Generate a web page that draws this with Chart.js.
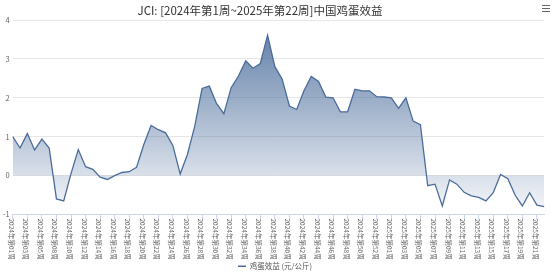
<!DOCTYPE html>
<html>
<head>
<meta charset="utf-8">
<script src="https://cdn.jsdelivr.net/npm/chart.js@4"></script>
<style>
html, body { margin: 0; padding: 0; background: #fff; }
#wrap { width: 553px; height: 280px; position: relative; }
</style>
</head>
<body>
<div id="wrap"><canvas id="myChart"></canvas></div>
<script>
const chartTitle = 'JCI: [2024年第1周~2025年第22周]中国鸡蛋效益';
const seriesName = '鸡蛋效益 (元/公斤)';

// week numbers (2024 has no week 6 in the data)
const weeks2024 = [1, 2, 3, 4, 5, 7, 8, 9, 10, 11, 12, 13, 14, 15, 16, 17, 18, 19, 20, 21, 22, 23, 24, 25, 26, 27, 28, 29, 30,
    31, 32, 33, 34, 35, 36, 37, 38, 39, 40, 41, 42, 43, 44, 45, 46, 47, 48, 49, 50, 51, 52, 53];
const weeks2025 = [1, 2, 3, 4, 5, 6, 7, 8, 9, 10, 11, 12, 13, 14, 15, 16, 17, 18, 19, 20, 21, 22];

const eggProfit = [1.0, 0.71, 1.08, 0.66, 0.94, 0.71, -0.6, -0.65, 0.05, 0.67, 0.23, 0.16, -0.04, -0.1, 0.0, 0.08, 0.1, 0.21,
    0.8, 1.29, 1.18, 1.1, 0.77, 0.04, 0.55, 1.27, 2.24, 2.3, 1.85, 1.59, 2.26, 2.56, 2.95, 2.76, 2.88, 3.61, 2.8, 2.48,
    1.79, 1.7, 2.18, 2.55, 2.42, 2.02, 2.0, 1.64, 1.64, 2.22, 2.18, 2.18, 2.03, 2.02, 2.0, 1.73, 2.0, 1.4, 1.31,
    -0.26, -0.22, -0.78, -0.11, -0.22, -0.43, -0.52, -0.56, -0.65, -0.44, 0.03, -0.08, -0.5, -0.78, -0.44, -0.76, -0.8];

const yMin = -1;
const yMax = 4;

function pad(n) { return n < 10 ? '0' + n : '' + n; }
var labels = weeks2024.map(w => '2024年第' + pad(w) + '周').concat(weeks2025.map(w => '2025年第' + pad(w) + '周'));

var font = '"Noto Sans CJK SC", "Noto Sans", sans-serif';

// x labels read top to bottom, title offset left of the menu button
const customText = {
    id: 'customText',
    afterDraw(chart) {
        var ctx = chart.ctx;
        var xs = chart.scales.x;
        ctx.save();
        ctx.fillStyle = '#666';
        ctx.font = '6.5px ' + font;
        ctx.textAlign = 'left';
        ctx.textBaseline = 'middle';
        for (var i = 0; i < labels.length; i += 2) {
            var x = xs.getPixelForValue(i);
            ctx.save();
            ctx.translate(x - 1.5, xs.top + 4);
            ctx.rotate(Math.PI / 2);
            ctx.fillText(labels[i], 0, 0);
            ctx.restore();
        }
        ctx.fillStyle = '#333';
        ctx.font = '11.5px ' + font;
        ctx.textAlign = 'center';
        ctx.fillText(chartTitle, 260, 11);
        ctx.strokeStyle = '#666';
        ctx.lineWidth = 1;
        ctx.beginPath();
        [5.5, 8.5, 11.5].forEach(y => { ctx.moveTo(542, y); ctx.lineTo(550, y); });
        ctx.stroke();
        ctx.restore();
    }
};

var ctx = document.getElementById('myChart').getContext('2d');
var eggChart = new Chart(ctx, {
    type: 'line',
    data: {
        labels: labels,
        datasets: [{
            label: seriesName,
            data: eggProfit,
            borderColor: '#4a6c9b',
            borderWidth: 1.3,
            pointRadius: 0,
            tension: 0,
            fill: 'origin',
            backgroundColor: function(c) {
                var area = c.chart.chartArea;
                if (!area) return 'rgba(74,108,155,0.3)';
                var g = c.chart.ctx.createLinearGradient(0, area.top, 0, area.bottom);
                g.addColorStop(0, 'rgba(74,108,155,0.9)');
                g.addColorStop(1, 'rgba(74,108,155,0.04)');
                return g;
            }
        }]
    },
    options: {
        responsive: true,
        maintainAspectRatio: false,
        animation: false,
        layout: { padding: { top: 20, right: 3, left: 0, bottom: 0 } },
        plugins: {
            title: { display: false },
            tooltip: { enabled: false },
            legend: {
                position: 'bottom',
                labels: {
                    usePointStyle: true,
                    pointStyle: 'line',
                    pointStyleWidth: 8,
                    boxHeight: 6,
                    padding: 4,
                    color: '#555',
                    font: { size: 7.5, family: font }
                }
            }
        },
        scales: {
            x: {
                afterFit: s => { s.height = 44; },
                grid: {
                    drawOnChartArea: false,
                    tickLength: 5,
                    color: c => c.index % 2 === 0 ? '#ccd6eb' : 'rgba(0,0,0,0)'
                },
                border: { color: '#ccd6eb' },
                ticks: {
                    autoSkip: false,
                    minRotation: 90,
                    maxRotation: 90,
                    padding: 1,
                    color: 'rgba(0,0,0,0)',
                    font: { size: 6.5, family: font },
                    callback: (v, i) => i % 2 === 0 ? labels[i] : ''
                }
            },
            y: {
                min: yMin,
                max: yMax,
                grid: { color: '#e6e6e6', drawTicks: false },
                border: { display: false },
                ticks: {
                    stepSize: 1,
                    padding: 3,
                    color: '#666',
                    font: { size: 7.5, family: font }
                }
            }
        }
    },
    plugins: [customText]
});
</script>
</body>
</html>
